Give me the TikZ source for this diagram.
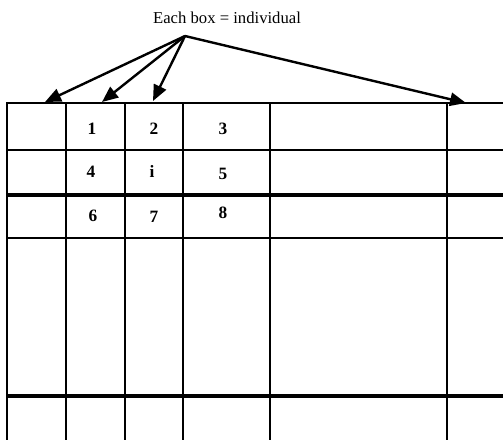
\documentclass[tikz,border=0pt]{standalone}
\usepackage{fontspec}
\setmainfont{Liberation Serif}
\usetikzlibrary{arrows.meta}
\begin{document}
\begin{tikzpicture}[x=0.75pt,y=-0.75pt,
  gridline/.style={line width=1.9pt},
  thickline/.style={line width=2.9pt},
  ptr/.style={line width=1.8pt,-{Triangle[length=12pt,width=10pt]}},
  num/.style={font=\fontsize{13}{15}\selectfont\bfseries,inner sep=0pt},
  title/.style={font=\fontsize{12.5}{14}\selectfont,inner sep=1pt}]
\useasboundingbox (0,0) rectangle (503,440);
% grid
\foreach \x in {7,66,125,183,270,447}
  \draw[gridline] (\x,103) -- (\x,440);
\draw[gridline] (6,103) -- (503,103);
\draw[gridline] (6,150) -- (503,150);
\draw[thickline] (6,195) -- (503,195);
\draw[gridline] (6,238) -- (503,238);
\draw[thickline] (6,396) -- (503,396);
% title and arrows
\node[title] (t) at (227,18) {Each box = individual};
\coordinate (o) at (185,36);
\coordinate (a1) at (45,102);
\coordinate (a2) at (102,102);
\coordinate (a3) at (153,101);
\coordinate (a4) at (466,103);
\foreach \c in {a1,a2,a3,a4} \draw[ptr] (o) -- (\c);
% numbers
\node[num] (n1) at (92,129) {1};
\node[num] (n2) at (154,129) {2};
\node[num] (n3) at (223,129) {3};
\node[num] (n4) at (91,172) {4};
\node[num] (ni) at (152,171) {i};
\node[num] (n5) at (223,174) {5};
\node[num] (n6) at (93,216) {6};
\node[num] (n7) at (154,217) {7};
\node[num] (n8) at (223,213) {8};
\end{tikzpicture}
\end{document}
